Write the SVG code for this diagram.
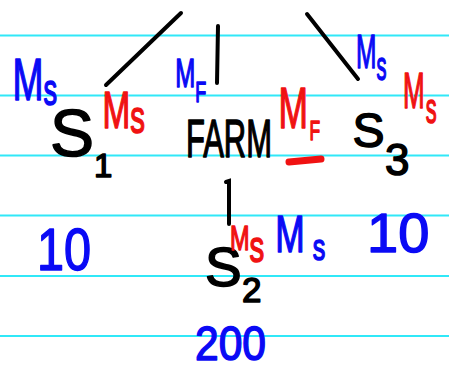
<svg xmlns="http://www.w3.org/2000/svg" width="449" height="371" viewBox="0 0 449 371">
<style>
.rule{stroke:#30e8f8;stroke-width:2}
.ln{stroke:#000;stroke-width:4;stroke-linecap:round;fill:none}
text{font-family:"Liberation Sans","DejaVu Sans",sans-serif;stroke-width:1.5;stroke-linejoin:round}
.b{fill:#0a0af5;stroke:#0a0af5}
.r{fill:#f01212;stroke:#f01212}
.k{fill:#000;stroke:#000}
</style>
<rect width="449" height="371" fill="#fff"/>
<g id="rules">
<line class="rule" x1="0" y1="35.5" x2="449" y2="35.5"/>
<line class="rule" x1="0" y1="95.5" x2="449" y2="95.5"/>
<line class="rule" x1="0" y1="155.5" x2="449" y2="155.5"/>
<line class="rule" x1="0" y1="215.5" x2="449" y2="215.5"/>
<line class="rule" x1="0" y1="276" x2="449" y2="276"/>
<line class="rule" x1="0" y1="336" x2="449" y2="336"/>
</g>
<g id="connectors">
<line class="ln" x1="181" y1="13" x2="106" y2="85"/>
<line class="ln" x1="218" y1="26" x2="217" y2="83"/>
<line class="ln" x1="307" y1="14" x2="358" y2="79" stroke-width="4.5"/>
<path class="ln" d="M226,182 L229,181 L229,224"/>
</g>
<g id="S1">
<text class="k" x="50" y="156" font-size="66">S<tspan x="94" y="177" font-size="33">1</tspan></text>
<text class="b" transform="translate(15,100) scale(0.62,1)" font-size="60"><tspan x="-4" y="0">M</tspan><tspan x="46" y="5" font-size="44">s</tspan></text>
<text class="r" transform="translate(105,128) scale(0.64,1)" font-size="52"><tspan x="-4" y="0">M</tspan><tspan x="39.5" y="5" font-size="46">s</tspan></text>
</g>
<g id="FARM">
<text class="k" transform="translate(186,157) scale(0.573,1)" font-size="54">FARM</text>
<text class="b" transform="translate(177,87) scale(0.6,1)" font-size="40"><tspan x="-3" y="0">M</tspan><tspan x="30.3" y="15" font-size="30">F</tspan></text>
<text class="r" transform="translate(281,128) scale(0.62,1)" font-size="57"><tspan x="-4" y="0">M</tspan><tspan x="46" y="12" font-size="28">F</tspan></text>
<path d="M289,162 L321,159" stroke="#f01212" stroke-width="7" stroke-linecap="round"/>
</g>
<g id="S3">
<text class="k" x="352.5" y="147" font-size="48">S<tspan x="385" y="175" font-size="44">3</tspan></text>
<text class="b" transform="translate(358,68) scale(0.5,1)" font-size="49"><tspan x="-4" y="0">M</tspan><tspan x="36.8" y="12" font-size="40">s</tspan></text>
<text class="r" transform="translate(405,108) scale(0.52,1)" font-size="50"><tspan x="-4" y="0">M</tspan><tspan x="40" y="15" font-size="42">s</tspan></text>
<text class="b" x="367" y="252" font-size="56">10</text>
</g>
<g id="S2">
<text class="k" x="205" y="286" font-size="55">S<tspan x="242" y="302" font-size="35">2</tspan></text>
<text class="r" transform="translate(232,250) scale(0.67,1)" font-size="35"><tspan x="-3" y="0">M</tspan><tspan x="26.2" y="12" font-size="44">s</tspan></text>
<text class="b" transform="translate(278,252) scale(0.68,1)" font-size="52"><tspan x="-4" y="0">M</tspan><tspan x="51" y="8" font-size="37">s</tspan></text>
<text class="b" transform="translate(195,360) scale(0.887,1)" font-size="48">200</text>
</g>
<g id="S1-value">
<text class="b" transform="translate(37,270) scale(0.81,1)" font-size="60">10</text>
</g>
</svg>
